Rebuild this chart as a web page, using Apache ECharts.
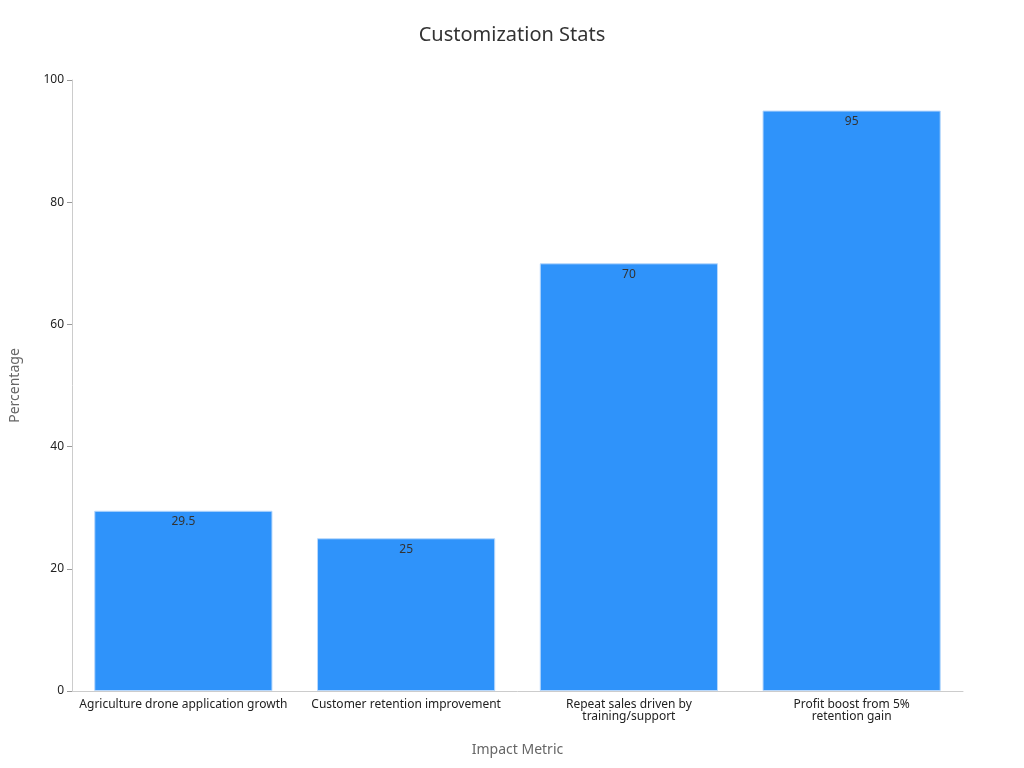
<!DOCTYPE html>
<html><head><meta charset="utf-8">
<script src="https://cdn.jsdelivr.net/npm/echarts@6/dist/echarts.min.js"></script>
<style>html,body{margin:0;padding:0}#c{width:1024px;height:768px}</style>
</head><body><div id="c"></div>
<script>
const categories = ["Agriculture drone application growth","Customer retention improvement","Repeat sales driven by\ntraining/support","Profit boost from 5%\nretention gain"];
const values = [29.5, 25, 70, 95];
const yTicks = [0, 20, 40, 60, 80, 100];
const chart = echarts.init(document.getElementById('c'));
chart.setOption({
  textStyle:{fontFamily:'Noto Sans'},
  title:{text:'Customization Stats',left:'center',top:20,textStyle:{fontSize:20,fontWeight:'normal',color:'#333'}},
  grid:{left:68,right:61,top:80,bottom:77},
  xAxis:{type:'category',data:categories,name:'Impact Metric',nameLocation:'middle',nameGap:52,
    nameTextStyle:{fontSize:14,color:'#666'},
    axisLine:{lineStyle:{color:'#ccc'}},axisTick:{alignWithLabel:true,lineStyle:{color:'#999'}},
    axisLabel:{color:'#222',fontSize:12,interval:0}},
  yAxis:{type:'value',min:yTicks[0],max:yTicks[yTicks.length-1],interval:20,name:'Percentage',nameLocation:'middle',nameGap:50,
    nameTextStyle:{fontSize:14,color:'#666'},
    axisLine:{show:true,lineStyle:{color:'#ccc'}},axisTick:{show:true,lineStyle:{color:'#999'}},
    axisLabel:{color:'#222',fontSize:12},splitLine:{show:false}},
  series:[{type:'bar',data:values,barWidth:'80%',
    itemStyle:{color:'#2f93fa',borderColor:'#b8d8fc',borderWidth:1},
    label:{show:true,position:'insideTop',color:'#333',fontSize:12}}]
});
</script></body></html>
